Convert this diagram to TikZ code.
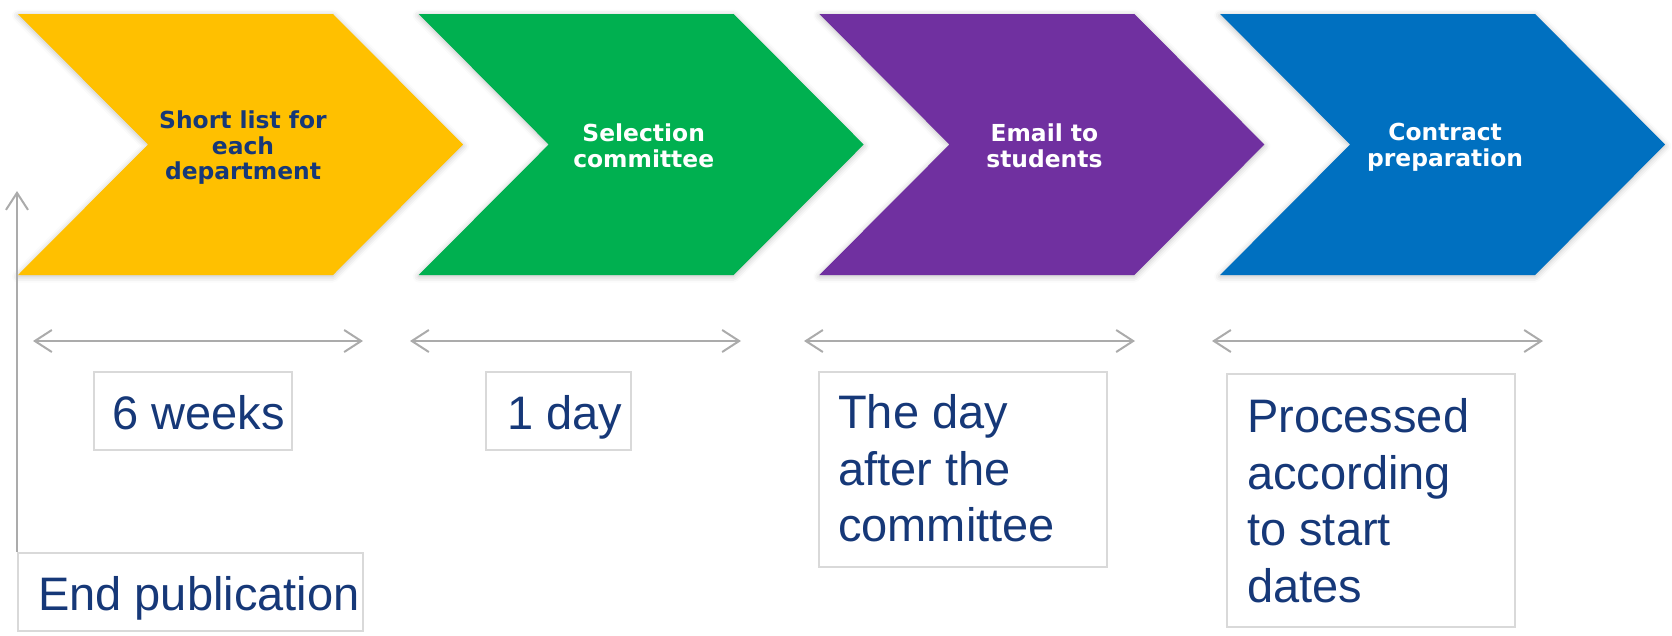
\documentclass[tikz,border=0pt]{standalone}
\usepackage{fontspec}
\setmainfont{Liberation Sans}
\newfontfamily\chevfont{DejaVu Sans}
\usetikzlibrary{arrows.meta,shadows.blur}
\definecolor{cyellow}{HTML}{FFC000}
\definecolor{cgreen}{HTML}{00B050}
\definecolor{cpurple}{HTML}{7030A0}
\definecolor{cblue}{HTML}{0070C0}
\definecolor{navy}{RGB}{22,56,120}
\definecolor{arrgrey}{HTML}{ABABAB}
\definecolor{boxgrey}{HTML}{D9D9D9}
\tikzset{
 chev/.style={blur shadow={shadow xshift=0pt,shadow yshift=-1.5pt,shadow blur radius=6pt,shadow opacity=25}},
 chevtext/.style={font=\chevfont\bfseries\fontsize{23.4}{25.5}\selectfont, align=center, inner sep=0pt},
 barb/.tip={Straight Barb[length=17pt,width=22pt]},
 span/.style={draw=arrgrey, line width=2pt, barb-barb},
 uparrow/.style={draw=arrgrey, line width=2pt, -barb},
 box/.style={draw=boxgrey, line width=1.6pt, inner sep=0pt, anchor=north west},
 lowtext/.style={font=\fontsize{47}{56.5}\selectfont, text=navy, align=left, inner sep=0pt},
}
\begin{document}
\begin{tikzpicture}[x=1pt,y=-1pt]
\useasboundingbox (0,0) rectangle (1672,635);
% chevrons
\fill[cyellow, chev] (18,14) -- ++(315,0) -- ++(130,130.5) -- ++(-130,130.5) -- ++(-315,0) -- ++(130,-130.5) -- cycle;
\fill[cgreen, chev] (418.7,14) -- ++(315,0) -- ++(130,130.5) -- ++(-130,130.5) -- ++(-315,0) -- ++(130,-130.5) -- cycle;
\fill[cpurple, chev] (819.4,14) -- ++(315,0) -- ++(130,130.5) -- ++(-130,130.5) -- ++(-315,0) -- ++(130,-130.5) -- cycle;
\fill[cblue, chev] (1220.1,14) -- ++(315,0) -- ++(130,130.5) -- ++(-130,130.5) -- ++(-315,0) -- ++(130,-130.5) -- cycle;
\node[chevtext, text=navy] (c1) at (243,148) {Short list for\\each\\department};
\node[chevtext, text=white] (c2) at (643.7,146) {Selection\\committee};
\node[chevtext, text=white] (c3) at (1044.4,146) {Email to\\students};
\node[chevtext, text=white] (c4) at (1445.1,147) {Contract\\preparation};
% span arrows
\coordinate (s1a) at (33,341);   \coordinate (s1b) at (363,341);
\coordinate (s2a) at (410,341);  \coordinate (s2b) at (741,341);
\coordinate (s3a) at (804,341);  \coordinate (s3b) at (1135,341);
\coordinate (s4a) at (1212,341); \coordinate (s4b) at (1543,341);
\draw[span] (s1a) -- (s1b);
\draw[span] (s2a) -- (s2b);
\draw[span] (s3a) -- (s3b);
\draw[span] (s4a) -- (s4b);
% boxes
\node[box, minimum width=198pt, minimum height=78pt] (b1) at (93,371) {};
\node[box, minimum width=145pt, minimum height=78pt] (b2) at (485,371) {};
\node[box, minimum width=288pt, minimum height=195pt] (b3) at (818,371) {};
\node[box, minimum width=288pt, minimum height=253pt] (b4) at (1226,373) {};
\node[box, minimum width=345pt, minimum height=78pt] (b5) at (17,552) {};
\node[lowtext, anchor=base west] (t1) at (112,429) {6 weeks};
\node[lowtext, anchor=base west] (t2) at (507,429) {1 day};
\node[lowtext, anchor=west] (t3) at (838,468.5) {The day\\after the\\committee};
\node[lowtext, anchor=west] (t4) at (1247,500.5) {Processed\\according\\to start\\dates};
\node[lowtext, anchor=base west] (t5) at (38,610) {End publication};
% vertical arrow
\coordinate (pubtop) at (17,191);
\draw[uparrow] (b5.north west) -- (pubtop);
\end{tikzpicture}
\end{document}
